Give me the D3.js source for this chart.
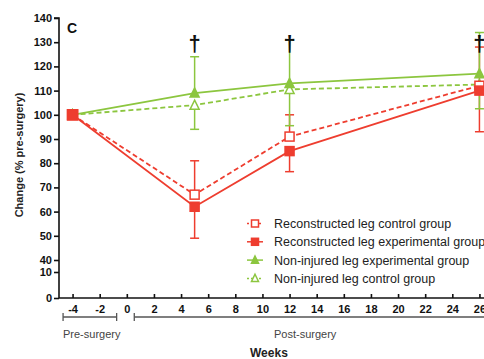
<!DOCTYPE html>
<html>
<head>
<meta charset="utf-8">
<script src="https://cdn.jsdelivr.net/npm/d3@7"></script>
<style>
  html, body { margin: 0; padding: 0; background: #fff; }
  svg { display: block; font-family: "Liberation Sans", Arial, sans-serif; }
</style>
</head>
<body>
<div id="chart"></div>
<script>
const width = 484, height = 359;

// data
const weeks = [-4, 5, 12, 26];
const reconControl = [100, 67, 91, 112];
const reconExp = [100, 62, 85, 110];
const nonInjExp = [100, 109, 113, 117];
const nonInjControl = [100, 104, 110.5, 112.5];
// one-sided error bars (sd) as drawn
const reconControlErr = [0, 14, 9, 16];
const reconExpErr = [0, 13, 8.5, 17];
const nonInjExpErr = [0, 15, 18, 17];
const nonInjControlErr = [0, 10, 15, 10];
const daggerWeeks = [5, 12, 26];
const xTicks = [-4, -2, 0, 2, 4, 6, 8, 10, 12, 14, 16, 18, 20, 22, 24, 26];
const yTicksUpper = [40, 50, 60, 70, 80, 90, 100, 110, 120, 130, 140];
const yTicksLower = [0, 10];

const red = "#ee3d2f", green = "#8cc63f";

const series = [
  { name: "Reconstructed leg control group", values: reconControl, err: reconControlErr, dir: 1, color: red, dash: "5,3", shape: "square", filled: false },
  { name: "Reconstructed leg experimental group", values: reconExp, err: reconExpErr, dir: -1, color: red, dash: null, shape: "square", filled: true },
  { name: "Non-injured leg experimental group", values: nonInjExp, err: nonInjExpErr, dir: 1, color: green, dash: null, shape: "triangle", filled: true },
  { name: "Non-injured leg control group", values: nonInjControl, err: nonInjControlErr, dir: -1, color: green, dash: "5,3", shape: "triangle", filled: false }
];

const svg = d3.select("#chart").append("svg")
  .attr("width", width).attr("height", height);

const x = d3.scaleLinear().domain([-5, 27]).range([59, 493]);
const yUp = d3.scaleLinear().domain([40, 140]).range([260, 18]);
const yLow = d3.scaleLinear().domain([0, 10]).range([298, 272]);

// axes (plain hyphen minus like the original)
const fmt = d => String(d);
const yAxisUp = svg.append("g").attr("transform", "translate(59,0)")
  .call(d3.axisLeft(yUp).tickValues(yTicksUpper).tickFormat(fmt).tickSize(5).tickPadding(2));
const yAxisLow = svg.append("g").attr("transform", "translate(59,0)")
  .call(d3.axisLeft(yLow).tickValues(yTicksLower).tickFormat(fmt).tickSize(5).tickPadding(2));
const xAxis = svg.append("g").attr("transform", "translate(0,298)")
  .call(d3.axisBottom(x).tickValues(xTicks).tickFormat(fmt).tickSize(4).tickPadding(3));

[yAxisUp, yAxisLow, xAxis].forEach(a => {
  a.selectAll("path, line").attr("stroke", "#111").attr("stroke-width", 1.6);
  a.selectAll("text").attr("fill", "#111").style("font-size", "11px").style("font-weight", "bold")
    .style("font-family", "'Liberation Sans', Arial, sans-serif");
});
yAxisUp.select(".domain").attr("d", `M-5,${yUp(140)}H0V${yUp(40)}`);
yAxisLow.select(".domain").attr("d", `M0,${yUp(40)}V${yLow(0)}`);
xAxis.select(".domain").attr("d", `M59,0H${width}`);
xAxis.selectAll(".tick line").attr("y1", -4).attr("y2", 0);

// error bars
const cap = 4.5;
series.forEach(s => {
  const g = svg.append("g");
  weeks.forEach((w, i) => {
    if (!s.err[i]) return;
    const x0 = x(w), y0 = yUp(s.values[i]), y1 = yUp(s.values[i] + s.dir * s.err[i]);
    g.append("line").attr("x1", x0).attr("x2", x0).attr("y1", y0).attr("y2", y1)
      .attr("stroke", s.color).attr("stroke-width", 1.5);
    g.append("line").attr("x1", x0 - cap).attr("x2", x0 + cap).attr("y1", y1).attr("y2", y1)
      .attr("stroke", s.color).attr("stroke-width", 1.5);
  });
});

// lines
const line = d3.line().x((d, i) => x(weeks[i])).y(d => yUp(d));
series.forEach(s => {
  svg.append("path").datum(s.values)
    .attr("d", line)
    .attr("fill", "none")
    .attr("stroke", s.color)
    .attr("stroke-width", 1.8)
    .attr("stroke-dasharray", s.dash);
});

function marker(g, s, cx, cy, size) {
  if (s.shape === "square") {
    g.append("rect").attr("x", cx - size / 2).attr("y", cy - size / 2)
      .attr("width", size).attr("height", size)
      .attr("fill", s.filled ? s.color : "#fff")
      .attr("stroke", s.color).attr("stroke-width", 1.5);
  } else {
    const h = size * 0.9;
    g.append("path")
      .attr("d", `M${cx},${cy - h / 2 - 1}L${cx + size / 2},${cy + h / 2}L${cx - size / 2},${cy + h / 2}Z`)
      .attr("fill", s.filled ? s.color : "#fff")
      .attr("stroke", s.color).attr("stroke-width", 1.5);
  }
}

// markers (experimental drawn last so it sits on top at week -4)
[3, 2, 0, 1].forEach(k => {
  const s = series[k];
  const g = svg.append("g");
  weeks.forEach((w, i) => marker(g, s, x(w), yUp(s.values[i]), s.shape === "square" ? (i === 0 ? 10 : 9) : 9));
});

// significance daggers
svg.selectAll(".dagger").data(daggerWeeks).enter().append("text")
  .attr("x", d => x(d)).attr("y", 51)
  .attr("text-anchor", "middle")
  .style("font-size", "22px").style("font-weight", "bold")
  .attr("fill", "#111")
  .text("\u2020");

// panel letter
svg.append("text").attr("x", 67).attr("y", 33)
  .style("font-size", "14px").style("font-weight", "bold").attr("fill", "#111").text("C");

// y label
svg.append("text")
  .attr("transform", "translate(23,155) rotate(-90)")
  .attr("text-anchor", "middle")
  .style("font-size", "11px").style("font-weight", "bold").attr("fill", "#222")
  .text("Change (% pre-surgery)");

// legend
const legend = svg.append("g");
series.forEach((s, i) => {
  const ly = 223.5 + i * 18.3, lx = 255;
  const g = legend.append("g");
  g.append("line").attr("x1", lx - 8).attr("x2", lx + 8).attr("y1", ly).attr("y2", ly)
    .attr("stroke", s.color).attr("stroke-width", 1.5).attr("stroke-dasharray", s.dash ? "2,2" : null);
  marker(g, s, lx, ly, 7);
  g.append("text").attr("x", 274).attr("y", ly + 4.5)
    .style("font-size", "12.5px").attr("fill", "#222").text(s.name);
});

// period brackets
const brackets = [
  { label: "Pre-surgery", from: -4.7, to: -0.75 },
  { label: "Post-surgery", from: 0.55, to: 28 }
];
brackets.forEach(b => {
  const g = svg.append("g").attr("stroke", "#555").attr("stroke-width", 1.3);
  g.append("line").attr("x1", x(b.from)).attr("x2", Math.min(x(b.to), width)).attr("y1", 317).attr("y2", 317);
  g.append("line").attr("x1", x(b.from)).attr("x2", x(b.from)).attr("y1", 313).attr("y2", 321);
  if (x(b.to) < width) g.append("line").attr("x1", x(b.to)).attr("x2", x(b.to)).attr("y1", 313).attr("y2", 321);
});
svg.append("text").attr("x", 63).attr("y", 338)
  .style("font-size", "11px").attr("fill", "#444").text("Pre-surgery");
svg.append("text").attr("x", 274).attr("y", 338)
  .style("font-size", "11px").attr("fill", "#444").text("Post-surgery");
svg.append("text").attr("x", 250).attr("y", 357)
  .style("font-size", "12px").style("font-weight", "bold").attr("fill", "#222").text("Weeks");
</script>
</body>
</html>
